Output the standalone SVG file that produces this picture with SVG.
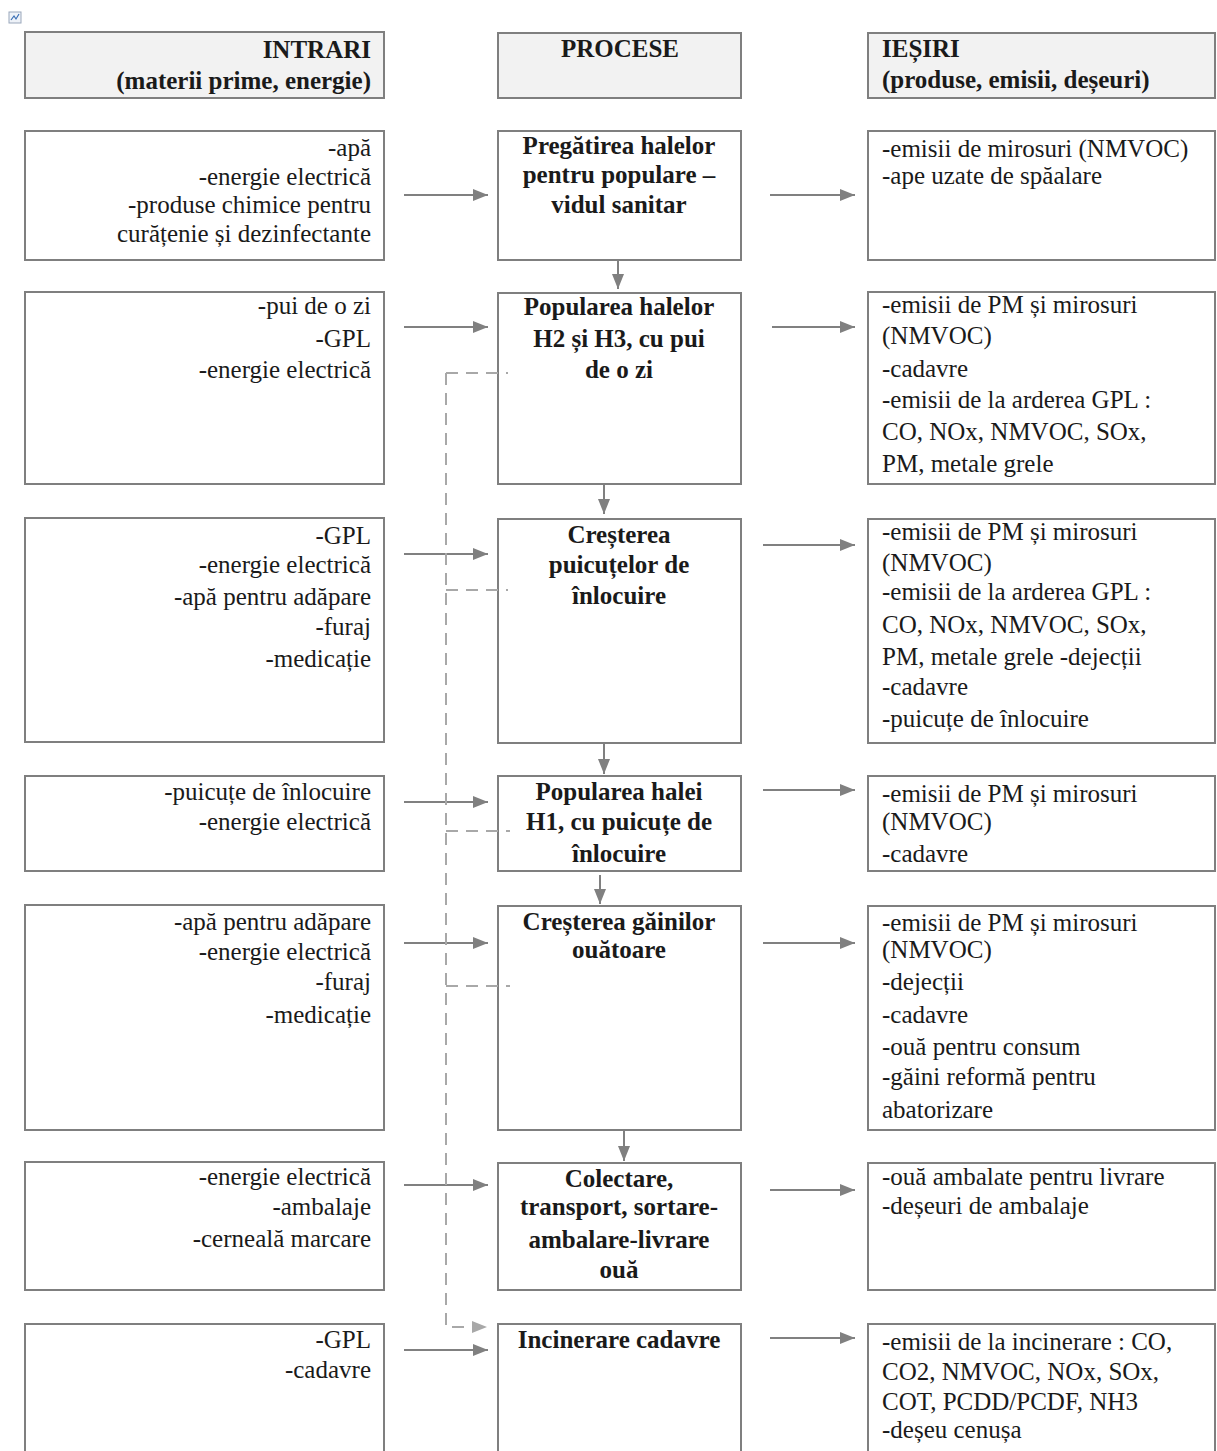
<svg xmlns="http://www.w3.org/2000/svg" width="1217" height="1451" viewBox="0 0 1217 1451">
<style>
.box{fill:#ffffff;stroke:#7f7f7f;stroke-width:2}
.hdr{fill:#f2f2f2;stroke:#7f7f7f;stroke-width:2}
.t{font-family:"Liberation Serif","Times New Roman",serif;font-size:25px;fill:#1a1a1a}
.b{font-weight:bold}
.r{text-anchor:end}
.c{text-anchor:middle}
.conn{stroke:#808080;stroke-width:2;fill:none}
.dash{stroke:#a8a8a8;stroke-width:2;fill:none;stroke-dasharray:12 8}
</style>
<defs>
<marker id="ah" markerUnits="userSpaceOnUse" markerWidth="15" markerHeight="12" refX="15" refY="6" orient="auto">
<path d="M0,0 L15,6 L0,12 z" fill="#808080"/>
</marker>
<marker id="ahl" markerUnits="userSpaceOnUse" markerWidth="15" markerHeight="12" refX="15" refY="6" orient="auto">
<path d="M0,0 L15,6 L0,12 z" fill="#a8a8a8"/>
</marker>
</defs>
<rect width="1217" height="1451" fill="#ffffff"/>
<g id="icon">
<rect x="9" y="12" width="12" height="11" fill="#eef2f8" stroke="#9aa7bb" stroke-width="1"/>
<path d="M11,20 L14,16 L16,19 L19,14" stroke="#3a6fb5" stroke-width="1.2" fill="none"/>
</g>

<g id="hdr-in">
<rect class="hdr" x="25" y="32" width="359" height="66"/>
<text class="t b r" x="371" y="58">INTRARI</text>
<text class="t b r" x="371" y="89">(materii prime, energie)</text>
</g>
<g id="hdr-proc">
<rect class="hdr" x="498" y="33" width="243" height="65"/>
<text class="t b c" x="620" y="57">PROCESE</text>
</g>
<g id="hdr-out">
<rect class="hdr" x="868" y="33" width="347" height="65"/>
<text class="t b" x="882" y="57">IEȘIRI</text>
<text class="t b" x="882" y="88">(produse, emisii, deșeuri)</text>
</g>

<g id="in1">
<rect class="box" x="25" y="131" width="359" height="129"/>
<text class="t r" x="371" y="156">-apă</text>
<text class="t r" x="371" y="185">-energie electrică</text>
<text class="t r" x="371" y="213">-produse chimice pentru</text>
<text class="t r" x="371" y="242">curățenie și dezinfectante</text>
</g>
<g id="in2">
<rect class="box" x="25" y="292" width="359" height="192"/>
<text class="t r" x="371" y="314">-pui de o zi</text>
<text class="t r" x="371" y="347">-GPL</text>
<text class="t r" x="371" y="378">-energie electrică</text>
</g>
<g id="in3">
<rect class="box" x="25" y="518" width="359" height="224"/>
<text class="t r" x="371" y="544">-GPL</text>
<text class="t r" x="371" y="573">-energie electrică</text>
<text class="t r" x="371" y="605">-apă pentru adăpare</text>
<text class="t r" x="371" y="635">-furaj</text>
<text class="t r" x="371" y="667">-medicație</text>
</g>
<g id="in4">
<rect class="box" x="25" y="776" width="359" height="95"/>
<text class="t r" x="371" y="800">-puicuțe de înlocuire</text>
<text class="t r" x="371" y="830">-energie electrică</text>
</g>
<g id="in5">
<rect class="box" x="25" y="905" width="359" height="225"/>
<text class="t r" x="371" y="930">-apă pentru adăpare</text>
<text class="t r" x="371" y="960">-energie electrică</text>
<text class="t r" x="371" y="990">-furaj</text>
<text class="t r" x="371" y="1023">-medicație</text>
</g>
<g id="in6">
<rect class="box" x="25" y="1162" width="359" height="128"/>
<text class="t r" x="371" y="1185">-energie electrică</text>
<text class="t r" x="371" y="1215">-ambalaje</text>
<text class="t r" x="371" y="1247">-cerneală marcare</text>
</g>
<g id="in7">
<rect class="box" x="25" y="1324" width="359" height="140"/>
<text class="t r" x="371" y="1348">-GPL</text>
<text class="t r" x="371" y="1378">-cadavre</text>
</g>

<g id="p1">
<rect class="box" x="498" y="131" width="243" height="129"/>
<text class="t b c" x="619" y="154">Pregătirea halelor</text>
<text class="t b c" x="619" y="183">pentru populare –</text>
<text class="t b c" x="619" y="213">vidul sanitar</text>
</g>
<g id="p2">
<rect class="box" x="498" y="293" width="243" height="191"/>
<text class="t b c" x="619" y="315">Popularea halelor</text>
<text class="t b c" x="619" y="347">H2 și H3, cu pui</text>
<text class="t b c" x="619" y="378">de o zi</text>
</g>
<g id="p3">
<rect class="box" x="498" y="519" width="243" height="224"/>
<text class="t b c" x="619" y="543">Creșterea</text>
<text class="t b c" x="619" y="573">puicuțelor de</text>
<text class="t b c" x="619" y="604">înlocuire</text>
</g>
<g id="p4">
<rect class="box" x="498" y="776" width="243" height="95"/>
<text class="t b c" x="619" y="800">Popularea halei</text>
<text class="t b c" x="619" y="830">H1, cu puicuțe de</text>
<text class="t b c" x="619" y="862">înlocuire</text>
</g>
<g id="p5">
<rect class="box" x="498" y="906" width="243" height="224"/>
<text class="t b c" x="619" y="930">Creșterea găinilor</text>
<text class="t b c" x="619" y="958">ouătoare</text>
</g>
<g id="p6">
<rect class="box" x="498" y="1163" width="243" height="127"/>
<text class="t b c" x="619" y="1187">Colectare,</text>
<text class="t b c" x="619" y="1215">transport, sortare-</text>
<text class="t b c" x="619" y="1248">ambalare-livrare</text>
<text class="t b c" x="619" y="1278">ouă</text>
</g>
<g id="p7">
<rect class="box" x="498" y="1324" width="243" height="140"/>
<text class="t b c" x="619" y="1348">Incinerare cadavre</text>
</g>

<g id="out1">
<rect class="box" x="868" y="131" width="347" height="129"/>
<text class="t" x="882" y="157">-emisii de mirosuri (NMVOC)</text>
<text class="t" x="882" y="184">-ape uzate de spăalare</text>
</g>
<g id="out2">
<rect class="box" x="868" y="292" width="347" height="192"/>
<text class="t" x="882" y="313">-emisii de PM și mirosuri</text>
<text class="t" x="882" y="344">(NMVOC)</text>
<text class="t" x="882" y="377">-cadavre</text>
<text class="t" x="882" y="408">-emisii de la arderea GPL :</text>
<text class="t" x="882" y="440">CO, NOx, NMVOC, SOx,</text>
<text class="t" x="882" y="472">PM, metale grele</text>
</g>
<g id="out3">
<rect class="box" x="868" y="519" width="347" height="224"/>
<text class="t" x="882" y="540">-emisii de PM și mirosuri</text>
<text class="t" x="882" y="571">(NMVOC)</text>
<text class="t" x="882" y="600">-emisii de la arderea GPL :</text>
<text class="t" x="882" y="633">CO, NOx, NMVOC, SOx,</text>
<text class="t" x="882" y="665">PM, metale grele -dejecții</text>
<text class="t" x="882" y="695">-cadavre</text>
<text class="t" x="882" y="727">-puicuțe de înlocuire</text>
</g>
<g id="out4">
<rect class="box" x="868" y="776" width="347" height="95"/>
<text class="t" x="882" y="802">-emisii de PM și mirosuri</text>
<text class="t" x="882" y="830">(NMVOC)</text>
<text class="t" x="882" y="862">-cadavre</text>
</g>
<g id="out5">
<rect class="box" x="868" y="906" width="347" height="224"/>
<text class="t" x="882" y="931">-emisii de PM și mirosuri</text>
<text class="t" x="882" y="958">(NMVOC)</text>
<text class="t" x="882" y="990">-dejecții</text>
<text class="t" x="882" y="1023">-cadavre</text>
<text class="t" x="882" y="1055">-ouă pentru consum</text>
<text class="t" x="882" y="1085">-găini reformă pentru</text>
<text class="t" x="882" y="1118">abatorizare</text>
</g>
<g id="out6">
<rect class="box" x="868" y="1163" width="347" height="127"/>
<text class="t" x="882" y="1185">-ouă ambalate pentru livrare</text>
<text class="t" x="882" y="1214">-deșeuri de ambalaje</text>
</g>
<g id="out7">
<rect class="box" x="868" y="1324" width="347" height="140"/>
<text class="t" x="882" y="1350">-emisii de la incinerare : CO,</text>
<text class="t" x="882" y="1380">CO2, NMVOC, NOx, SOx,</text>
<text class="t" x="882" y="1410">COT, PCDD/PCDF, NH3</text>
<text class="t" x="882" y="1438">-deșeu cenușa</text>
</g>

<g id="connectors">
<line class="conn" x1="404" y1="195" x2="488" y2="195" marker-end="url(#ah)"/>
<line class="conn" x1="404" y1="327" x2="488" y2="327" marker-end="url(#ah)"/>
<line class="conn" x1="404" y1="554" x2="488" y2="554" marker-end="url(#ah)"/>
<line class="conn" x1="404" y1="802" x2="488" y2="802" marker-end="url(#ah)"/>
<line class="conn" x1="404" y1="943" x2="488" y2="943" marker-end="url(#ah)"/>
<line class="conn" x1="404" y1="1185" x2="488" y2="1185" marker-end="url(#ah)"/>
<line class="conn" x1="404" y1="1350" x2="488" y2="1350" marker-end="url(#ah)"/>

<line class="conn" x1="770" y1="195" x2="855" y2="195" marker-end="url(#ah)"/>
<line class="conn" x1="772" y1="327" x2="855" y2="327" marker-end="url(#ah)"/>
<line class="conn" x1="763" y1="545" x2="855" y2="545" marker-end="url(#ah)"/>
<line class="conn" x1="763" y1="790" x2="855" y2="790" marker-end="url(#ah)"/>
<line class="conn" x1="763" y1="943" x2="855" y2="943" marker-end="url(#ah)"/>
<line class="conn" x1="770" y1="1190" x2="855" y2="1190" marker-end="url(#ah)"/>
<line class="conn" x1="770" y1="1338" x2="855" y2="1338" marker-end="url(#ah)"/>

<line class="conn" x1="618" y1="261" x2="618" y2="289" marker-end="url(#ah)"/>
<line class="conn" x1="604" y1="485" x2="604" y2="514" marker-end="url(#ah)"/>
<line class="conn" x1="604" y1="744" x2="604" y2="774" marker-end="url(#ah)"/>
<line class="conn" x1="600" y1="875" x2="600" y2="904" marker-end="url(#ah)"/>
<line class="conn" x1="624" y1="1131" x2="624" y2="1161" marker-end="url(#ah)"/>

<path class="dash" d="M446,373 V1327 H487" marker-end="url(#ahl)"/>
<line class="dash" x1="446" y1="373" x2="508" y2="373"/>
<line class="dash" x1="446" y1="590" x2="508" y2="590"/>
<line class="dash" x1="446" y1="831" x2="510" y2="831"/>
<line class="dash" x1="446" y1="986" x2="510" y2="986"/>
</g>
</svg>
